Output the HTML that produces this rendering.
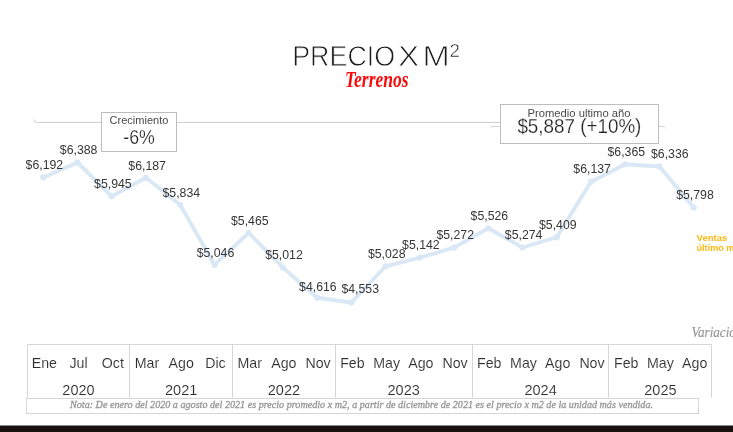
<!DOCTYPE html>
<html lang="es"><head><meta charset="utf-8"><title>Precio x m2 - Terrenos</title>
<style>
html,body{margin:0;padding:0;background:#fff;}
body{width:733px;height:432px;overflow:hidden;position:relative;font-family:"Liberation Sans",sans-serif;}
svg{position:absolute;left:0;top:0;display:block;}
text{font-family:"Liberation Sans",sans-serif;}
.ser{font-family:"Liberation Serif",serif;}
</style></head><body>
<svg width="733" height="432" viewBox="0 0 733 432">
<rect width="733" height="432" fill="#fff"/>

<text font-size="30.4" fill="#1c1c1c" stroke="#fff" stroke-width="0.8" paint-order="fill stroke" y="66.2"><tspan x="292.2" textLength="103" lengthAdjust="spacingAndGlyphs">PRECIO</tspan> <tspan x="398" textLength="21.2" lengthAdjust="spacingAndGlyphs">X</tspan> <tspan x="422.6" textLength="27.2" lengthAdjust="spacingAndGlyphs">M</tspan><tspan x="449.6" y="56.8" font-size="17.6" textLength="10.4" lengthAdjust="spacingAndGlyphs" stroke-width="0.5">2</tspan></text>
<text class="ser" x="345" y="86.9" font-size="22.5" font-style="italic" font-weight="bold" fill="#fa0a0a" textLength="63.6" lengthAdjust="spacingAndGlyphs">Terrenos</text>
<path d="M33.3 119.5 Q34 122.4 37.5 122.4 L500 122.4" fill="none" stroke="#ccc" stroke-width="1"/>
<path d="M491 128 Q491 126.4 493 126.4 L500 126.4" fill="none" stroke="#d4d4d4" stroke-width="1"/>
<path d="M658.5 126.4 L662.5 126.4 Q664.5 126.4 664.5 128.5" fill="none" stroke="#d4d4d4" stroke-width="1"/>
<path d="M43.30 177.45 L77.53 162.50 L111.76 196.30 L145.99 177.84 L180.22 204.77 L214.45 264.89 L248.68 232.92 L282.91 267.49 L317.14 297.70 L351.37 302.51 L385.60 266.27 L419.83 257.57 L454.06 247.65 L488.29 228.27 L522.52 247.50 L556.75 237.20 L590.98 181.65 L625.21 164.25 L659.44 166.47 L693.67 207.52" fill="none" stroke="#dae8f6" stroke-width="3.9" stroke-linejoin="round" stroke-linecap="round"/>
<circle cx="43.30" cy="177.45" r="3.1" fill="#dae8f6"/>
<circle cx="77.53" cy="162.50" r="3.1" fill="#dae8f6"/>
<circle cx="111.76" cy="196.30" r="3.1" fill="#dae8f6"/>
<circle cx="145.99" cy="177.84" r="3.1" fill="#dae8f6"/>
<circle cx="180.22" cy="204.77" r="3.1" fill="#dae8f6"/>
<circle cx="214.45" cy="264.89" r="3.1" fill="#dae8f6"/>
<circle cx="248.68" cy="232.92" r="3.1" fill="#dae8f6"/>
<circle cx="282.91" cy="267.49" r="3.1" fill="#dae8f6"/>
<circle cx="317.14" cy="297.70" r="3.1" fill="#dae8f6"/>
<circle cx="351.37" cy="302.51" r="3.1" fill="#dae8f6"/>
<circle cx="385.60" cy="266.27" r="3.1" fill="#dae8f6"/>
<circle cx="419.83" cy="257.57" r="3.1" fill="#dae8f6"/>
<circle cx="454.06" cy="247.65" r="3.1" fill="#dae8f6"/>
<circle cx="488.29" cy="228.27" r="3.1" fill="#dae8f6"/>
<circle cx="522.52" cy="247.50" r="3.1" fill="#dae8f6"/>
<circle cx="556.75" cy="237.20" r="3.1" fill="#dae8f6"/>
<circle cx="590.98" cy="181.65" r="3.1" fill="#dae8f6"/>
<circle cx="625.21" cy="164.25" r="3.1" fill="#dae8f6"/>
<circle cx="659.44" cy="166.47" r="3.1" fill="#dae8f6"/>
<circle cx="693.67" cy="207.52" r="3.1" fill="#dae8f6"/>
<rect x="101.5" y="112.5" width="75" height="39" fill="#fff" stroke="#bdbdbd" stroke-width="1"/>
<text x="139" y="123.8" font-size="10.6" fill="#4a4a4a" text-anchor="middle" textLength="59" lengthAdjust="spacingAndGlyphs">Crecimiento</text>
<text x="139.1" y="144.2" font-size="19.6" fill="#222" stroke="#fff" stroke-width="0.25" paint-order="fill stroke" text-anchor="middle" textLength="31.6" lengthAdjust="spacingAndGlyphs">-6%</text>
<rect x="500.5" y="104.5" width="158" height="39" fill="#fff" stroke="#bdbdbd" stroke-width="1"/>
<text x="579" y="117" font-size="11.8" fill="#4a4a4a" text-anchor="middle" textLength="103" lengthAdjust="spacingAndGlyphs">Promedio ultimo año</text>
<text x="579.4" y="133.4" font-size="21" fill="#222" stroke="#fff" stroke-width="0.25" paint-order="fill stroke" text-anchor="middle" textLength="124" lengthAdjust="spacingAndGlyphs">$5,887 (+10%)</text>
<text x="44.4" y="169.2" font-size="12.8" fill="#363636" text-anchor="middle" textLength="37.6" lengthAdjust="spacingAndGlyphs">$6,192</text>
<text x="78.6" y="154.2" font-size="12.8" fill="#363636" text-anchor="middle" textLength="37.6" lengthAdjust="spacingAndGlyphs">$6,388</text>
<text x="112.9" y="188.0" font-size="12.8" fill="#363636" text-anchor="middle" textLength="37.6" lengthAdjust="spacingAndGlyphs">$5,945</text>
<text x="147.1" y="169.5" font-size="12.8" fill="#363636" text-anchor="middle" textLength="37.6" lengthAdjust="spacingAndGlyphs">$6,187</text>
<text x="181.3" y="196.5" font-size="12.8" fill="#363636" text-anchor="middle" textLength="37.6" lengthAdjust="spacingAndGlyphs">$5,834</text>
<text x="215.5" y="256.6" font-size="12.8" fill="#363636" text-anchor="middle" textLength="37.6" lengthAdjust="spacingAndGlyphs">$5,046</text>
<text x="249.8" y="224.6" font-size="12.8" fill="#363636" text-anchor="middle" textLength="37.6" lengthAdjust="spacingAndGlyphs">$5,465</text>
<text x="284.0" y="259.2" font-size="12.8" fill="#363636" text-anchor="middle" textLength="37.6" lengthAdjust="spacingAndGlyphs">$5,012</text>
<text x="317.9" y="290.6" font-size="12.8" fill="#363636" text-anchor="middle" textLength="37.6" lengthAdjust="spacingAndGlyphs">$4,616</text>
<text x="360.2" y="293.3" font-size="12.8" fill="#363636" text-anchor="middle" textLength="37.6" lengthAdjust="spacingAndGlyphs">$4,553</text>
<text x="386.7" y="258.0" font-size="12.8" fill="#363636" text-anchor="middle" textLength="37.6" lengthAdjust="spacingAndGlyphs">$5,028</text>
<text x="420.9" y="249.3" font-size="12.8" fill="#363636" text-anchor="middle" textLength="37.6" lengthAdjust="spacingAndGlyphs">$5,142</text>
<text x="455.2" y="239.4" font-size="12.8" fill="#363636" text-anchor="middle" textLength="37.6" lengthAdjust="spacingAndGlyphs">$5,272</text>
<text x="489.4" y="220.0" font-size="12.8" fill="#363636" text-anchor="middle" textLength="37.6" lengthAdjust="spacingAndGlyphs">$5,526</text>
<text x="523.6" y="239.2" font-size="12.8" fill="#363636" text-anchor="middle" textLength="37.6" lengthAdjust="spacingAndGlyphs">$5,274</text>
<text x="557.8" y="228.9" font-size="12.8" fill="#363636" text-anchor="middle" textLength="37.6" lengthAdjust="spacingAndGlyphs">$5,409</text>
<text x="592.1" y="173.4" font-size="12.8" fill="#363636" text-anchor="middle" textLength="37.6" lengthAdjust="spacingAndGlyphs">$6,137</text>
<text x="626.3" y="156.0" font-size="12.8" fill="#363636" text-anchor="middle" textLength="37.6" lengthAdjust="spacingAndGlyphs">$6,365</text>
<text x="669.8" y="157.6" font-size="12.8" fill="#363636" text-anchor="middle" textLength="37.6" lengthAdjust="spacingAndGlyphs">$6,336</text>
<text x="695.0" y="198.5" font-size="12.8" fill="#363636" text-anchor="middle" textLength="37.6" lengthAdjust="spacingAndGlyphs">$5,798</text>
<text x="696.6" y="240.9" font-size="9.8" font-weight="bold" fill="#fdb813" textLength="30.6" lengthAdjust="spacingAndGlyphs">Ventas</text>
<text x="696.6" y="250.9" font-size="9.8" font-weight="bold" fill="#fdb813" textLength="47.7" lengthAdjust="spacingAndGlyphs">último mes</text>
<text class="ser" x="691.4" y="336.8" font-size="14.6" font-style="italic" fill="#969696" stroke="#969696" stroke-width="0.15" textLength="51.1" lengthAdjust="spacingAndGlyphs">Variación</text>
<path d="M27.5 397.5 L27.5 344.5 L711.5 344.5 L711.5 397.5" fill="none" stroke="#d6d6d6" stroke-width="1"/>
<line x1="129.5" y1="344.5" x2="129.5" y2="397.5" stroke="#d6d6d6" stroke-width="1"/>
<line x1="232.5" y1="344.5" x2="232.5" y2="397.5" stroke="#d6d6d6" stroke-width="1"/>
<line x1="335.5" y1="344.5" x2="335.5" y2="397.5" stroke="#d6d6d6" stroke-width="1"/>
<line x1="472.5" y1="344.5" x2="472.5" y2="397.5" stroke="#d6d6d6" stroke-width="1"/>
<line x1="608.5" y1="344.5" x2="608.5" y2="397.5" stroke="#d6d6d6" stroke-width="1"/>
<text x="44.3" y="367.5" font-size="14.2" fill="#2e2e2e" stroke="#fff" stroke-width="0.12" paint-order="fill stroke" text-anchor="middle">Ene</text>
<text x="78.5" y="367.5" font-size="14.2" fill="#2e2e2e" stroke="#fff" stroke-width="0.12" paint-order="fill stroke" text-anchor="middle">Jul</text>
<text x="112.8" y="367.5" font-size="14.2" fill="#2e2e2e" stroke="#fff" stroke-width="0.12" paint-order="fill stroke" text-anchor="middle">Oct</text>
<text x="147.0" y="367.5" font-size="14.2" fill="#2e2e2e" stroke="#fff" stroke-width="0.12" paint-order="fill stroke" text-anchor="middle">Mar</text>
<text x="181.2" y="367.5" font-size="14.2" fill="#2e2e2e" stroke="#fff" stroke-width="0.12" paint-order="fill stroke" text-anchor="middle">Ago</text>
<text x="215.4" y="367.5" font-size="14.2" fill="#2e2e2e" stroke="#fff" stroke-width="0.12" paint-order="fill stroke" text-anchor="middle">Dic</text>
<text x="249.7" y="367.5" font-size="14.2" fill="#2e2e2e" stroke="#fff" stroke-width="0.12" paint-order="fill stroke" text-anchor="middle">Mar</text>
<text x="283.9" y="367.5" font-size="14.2" fill="#2e2e2e" stroke="#fff" stroke-width="0.12" paint-order="fill stroke" text-anchor="middle">Ago</text>
<text x="318.1" y="367.5" font-size="14.2" fill="#2e2e2e" stroke="#fff" stroke-width="0.12" paint-order="fill stroke" text-anchor="middle">Nov</text>
<text x="352.4" y="367.5" font-size="14.2" fill="#2e2e2e" stroke="#fff" stroke-width="0.12" paint-order="fill stroke" text-anchor="middle">Feb</text>
<text x="386.6" y="367.5" font-size="14.2" fill="#2e2e2e" stroke="#fff" stroke-width="0.12" paint-order="fill stroke" text-anchor="middle">May</text>
<text x="420.8" y="367.5" font-size="14.2" fill="#2e2e2e" stroke="#fff" stroke-width="0.12" paint-order="fill stroke" text-anchor="middle">Ago</text>
<text x="455.1" y="367.5" font-size="14.2" fill="#2e2e2e" stroke="#fff" stroke-width="0.12" paint-order="fill stroke" text-anchor="middle">Nov</text>
<text x="489.3" y="367.5" font-size="14.2" fill="#2e2e2e" stroke="#fff" stroke-width="0.12" paint-order="fill stroke" text-anchor="middle">Feb</text>
<text x="523.5" y="367.5" font-size="14.2" fill="#2e2e2e" stroke="#fff" stroke-width="0.12" paint-order="fill stroke" text-anchor="middle">May</text>
<text x="557.7" y="367.5" font-size="14.2" fill="#2e2e2e" stroke="#fff" stroke-width="0.12" paint-order="fill stroke" text-anchor="middle">Ago</text>
<text x="592.0" y="367.5" font-size="14.2" fill="#2e2e2e" stroke="#fff" stroke-width="0.12" paint-order="fill stroke" text-anchor="middle">Nov</text>
<text x="626.2" y="367.5" font-size="14.2" fill="#2e2e2e" stroke="#fff" stroke-width="0.12" paint-order="fill stroke" text-anchor="middle">Feb</text>
<text x="660.4" y="367.5" font-size="14.2" fill="#2e2e2e" stroke="#fff" stroke-width="0.12" paint-order="fill stroke" text-anchor="middle">May</text>
<text x="694.7" y="367.5" font-size="14.2" fill="#2e2e2e" stroke="#fff" stroke-width="0.12" paint-order="fill stroke" text-anchor="middle">Ago</text>
<text x="78.5" y="395.2" font-size="14.4" fill="#2e2e2e" stroke="#fff" stroke-width="0.12" paint-order="fill stroke" text-anchor="middle" textLength="32.3" lengthAdjust="spacingAndGlyphs">2020</text>
<text x="181.2" y="395.2" font-size="14.4" fill="#2e2e2e" stroke="#fff" stroke-width="0.12" paint-order="fill stroke" text-anchor="middle" textLength="32.3" lengthAdjust="spacingAndGlyphs">2021</text>
<text x="283.9" y="395.2" font-size="14.4" fill="#2e2e2e" stroke="#fff" stroke-width="0.12" paint-order="fill stroke" text-anchor="middle" textLength="32.3" lengthAdjust="spacingAndGlyphs">2022</text>
<text x="403.7" y="395.2" font-size="14.4" fill="#2e2e2e" stroke="#fff" stroke-width="0.12" paint-order="fill stroke" text-anchor="middle" textLength="32.3" lengthAdjust="spacingAndGlyphs">2023</text>
<text x="540.6" y="395.2" font-size="14.4" fill="#2e2e2e" stroke="#fff" stroke-width="0.12" paint-order="fill stroke" text-anchor="middle" textLength="32.3" lengthAdjust="spacingAndGlyphs">2024</text>
<text x="660.4" y="395.2" font-size="14.4" fill="#2e2e2e" stroke="#fff" stroke-width="0.12" paint-order="fill stroke" text-anchor="middle" textLength="32.3" lengthAdjust="spacingAndGlyphs">2025</text>
<rect x="26.5" y="398.5" width="672" height="15" fill="#fff" stroke="#d6d6d6" stroke-width="1"/>
<text class="ser" x="70" y="407.6" font-size="10.6" font-style="italic" fill="#959595" stroke="#959595" stroke-width="0.3" textLength="583" lengthAdjust="spacingAndGlyphs">Nota: De enero del 2020 a agosto del 2021 es precio promedio x m2, a partir de diciembre de 2021 es el precio x m2 de la unidad más vendida.</text>
<rect x="0" y="425.5" width="733" height="7" fill="#1a1111"/>
</svg></body></html>
